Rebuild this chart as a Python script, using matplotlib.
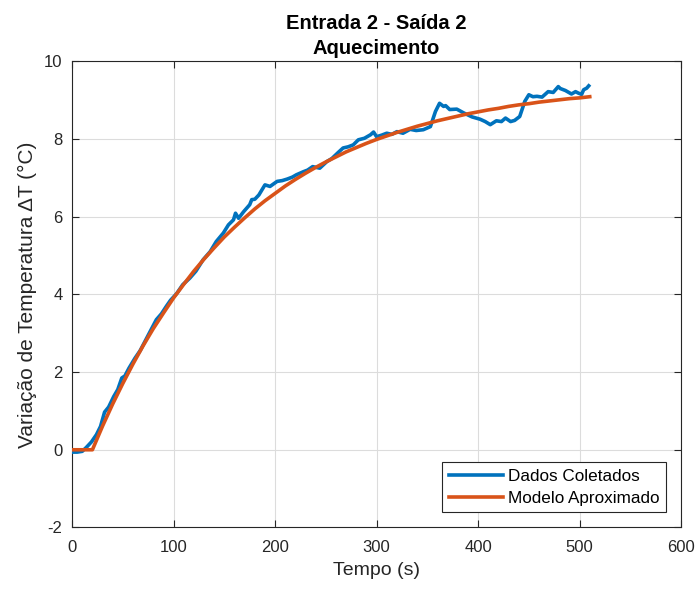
import matplotlib
matplotlib.use("Agg")
import matplotlib.pyplot as plt

plt.rcParams['font.family'] = ['Liberation Sans', 'DejaVu Sans']
plt.rcParams['axes.unicode_minus'] = False

# Collected data (time in s, temperature variation in °C)
data_t = [0, 5, 10, 14, 19, 24, 28, 32, 36, 41, 45, 49, 52, 56, 62, 67, 74, 78, 83, 88,
          93, 97, 103, 109, 116, 122, 129, 136, 142, 149, 154, 159, 161, 164, 169, 175, 177,
          180, 184, 190, 195, 202, 207, 212, 217, 221, 228, 232, 237, 244, 251, 256, 262,
          267, 272, 277, 282, 288, 294, 297, 300, 305, 310, 315, 320, 326, 333, 339, 346,
          353, 358, 362, 366, 368, 372, 379, 386, 394, 402, 407, 412, 418, 423, 427, 432,
          436, 441, 446, 450, 454, 458, 463, 469, 474, 479, 481, 486, 492, 496, 499, 502,
          504, 507, 509]
data_v = [-0.06, -0.06, -0.04, 0.06, 0.2, 0.39, 0.6, 0.97, 1.1, 1.37, 1.55, 1.85, 1.9, 2.1,
          2.36, 2.55, 2.9, 3.1, 3.35, 3.5, 3.7, 3.85, 4.02, 4.25, 4.42, 4.6, 4.89, 5.1, 5.36,
          5.58, 5.79, 5.92, 6.09, 5.96, 6.13, 6.31, 6.44, 6.45, 6.56, 6.82, 6.78, 6.91, 6.93,
          6.97, 7.02, 7.08, 7.16, 7.2, 7.29, 7.25, 7.42, 7.5, 7.65, 7.77, 7.8, 7.85, 7.98,
          8.02, 8.11, 8.18, 8.06, 8.1, 8.15, 8.12, 8.19, 8.15, 8.25, 8.22, 8.24, 8.32, 8.71,
          8.92, 8.84, 8.86, 8.76, 8.77, 8.67, 8.57, 8.51, 8.45, 8.37, 8.47, 8.45, 8.54, 8.45,
          8.48, 8.58, 8.97, 9.14, 9.09, 9.1, 9.08, 9.22, 9.2, 9.35, 9.3, 9.25, 9.16, 9.22, 9.18,
          9.15, 9.27, 9.31, 9.37]

# Approximated model (first order with dead time)
model_t = [0, 10, 20, 30, 40, 50, 60, 70, 80, 90, 100, 110, 120, 130, 140, 150, 160, 170,
           180, 190, 200, 210, 220, 230, 240, 250, 260, 270, 280, 290, 300, 310, 320, 330,
           340, 350, 360, 370, 380, 390, 400, 410, 420, 430, 440, 450, 460, 470, 480, 490,
           500, 510]
model_v = [0, 0, 0, 0.61, 1.18, 1.71, 2.21, 2.68, 3.12, 3.52, 3.91, 4.26, 4.60, 4.91, 5.20,
           5.48, 5.73, 5.97, 6.20, 6.41, 6.60, 6.79, 6.96, 7.12, 7.27, 7.41, 7.54, 7.67, 7.78,
           7.89, 7.99, 8.08, 8.17, 8.25, 8.33, 8.40, 8.47, 8.53, 8.59, 8.65, 8.70, 8.75, 8.79,
           8.84, 8.88, 8.91, 8.95, 8.98, 9.01, 9.04, 9.06, 9.09]

x_ticks = [0, 100, 200, 300, 400, 500, 600]
y_ticks = [-2, 0, 2, 4, 6, 8, 10]

fig = plt.figure(figsize=(7.0, 5.9), dpi=100)
ax = fig.add_axes([0.103, 0.106, 0.870, 0.790])

ax.plot(data_t, data_v, color='#0072BD', lw=2.6, label='Dados Coletados', zorder=3)
ax.plot(model_t, model_v, color='#D95319', lw=2.6, label='Modelo Aproximado', zorder=4)

ax.set_xlim(0, 600)
ax.set_ylim(-2, 10)
ax.set_xticks(x_ticks)
ax.set_yticks(y_ticks)
ax.grid(True, color='#dcdcdc', lw=0.8)
ax.set_axisbelow(True)

axis_col = '#262626'
for s in ax.spines.values():
    s.set_color(axis_col)
    s.set_linewidth(0.8)
ax.tick_params(direction='in', top=True, right=True, length=5, width=0.8,
               colors=axis_col, labelsize=12, labelcolor='#262626')
ax.tick_params(axis='x', pad=9)
ax.tick_params(axis='y', pad=7)

ax.set_xlabel('Tempo (s)', fontsize=14, color='#262626', labelpad=5)
ax.set_ylabel('Variação de Temperatura ΔT (°C)', fontsize=15, color='#262626', labelpad=5)
ax.set_title('Entrada 2 - Saída 2\nAquecimento', fontsize=14.5, fontweight='bold',
             color='#000000', pad=5, linespacing=1.45)

leg = ax.legend(loc='lower right', fontsize=12.3, frameon=True, fancybox=False,
                edgecolor='#262626', framealpha=1, handlelength=3.2, handletextpad=0.25,
                borderpad=0.38, labelspacing=0.4, borderaxespad=0.9)
leg.get_frame().set_linewidth(0.8)

fig.savefig('out.png', dpi=100)
